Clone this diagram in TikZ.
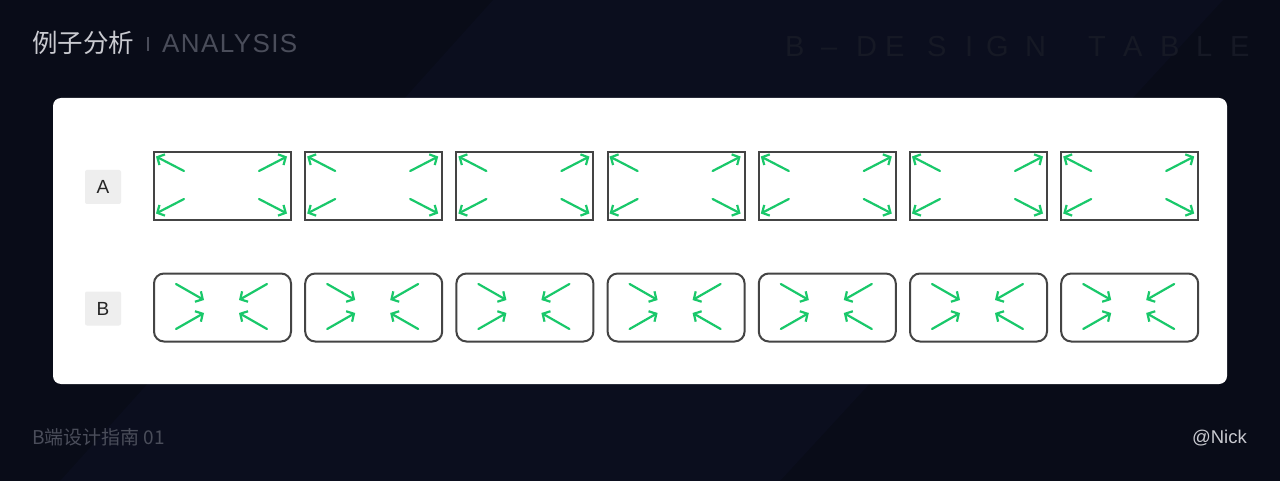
\documentclass[tikz,border=0pt]{standalone}
\usepackage{fontspec}
\setmainfont{Liberation Sans}
\newfontfamily\cjkfont{Noto Sans CJK SC}
\usetikzlibrary{arrows.meta}
\definecolor{bgdark}{HTML}{090C18}
\definecolor{bgband}{HTML}{0B0E1E}
\definecolor{greyhead}{HTML}{C9CAD0}
\definecolor{greydim}{HTML}{4A4D5A}
\definecolor{greyfaint}{HTML}{161925}
\definecolor{framegrey}{HTML}{444444}
\definecolor{arrowgreen}{HTML}{19C86A}
\definecolor{tagfill}{HTML}{EEEEEE}

\begin{document}
\begin{tikzpicture}[x=1pt,y=-1pt,
  frame/.style={draw=framegrey,line width=2pt,minimum width=137pt,minimum height=68pt,inner sep=0pt},
  tag/.style={fill=tagfill,rounded corners=2pt,minimum width=36pt,minimum height=34pt,inner sep=0pt,font=\fontsize{19}{22}\selectfont,text=black!85},
  arr/.style={arrowgreen,line width=2.2pt,line cap=round,-{Straight Barb[length=5.5pt,width=12pt]}}]
% background
\fill[bgdark] (0,0) rectangle (1280,481);
\fill[bgband] (60,481) -- (493,0) -- (1223,0) -- (780,481) -- cycle;
\useasboundingbox (0,0) rectangle (1280,481);

% header
\draw (32,53) node[anchor=base west,inner sep=0pt,text=greyhead,font=\cjkfont\fontsize{25.5}{30}\selectfont] (title) {例子分析};
\draw[greydim,line width=1.3pt] (148,37) -- (148,51);
\draw (162,53) node[anchor=base west,inner sep=0pt,text=greydim,font=\fontsize{26}{30}\selectfont\addfontfeature{LetterSpace=5.4}] (subtitle) {ANALYSIS};
\foreach \ch/\px [count=\k] in {B/787,\textendash/823,D/858,E/887,S/929,I/967,G/988,N/1027,T/1090,A/1125,B/1162,L/1198,E/1232}
  \draw (\px-2,57) node[anchor=base west,inner sep=0pt,text=greyfaint,font=\fontsize{29}{34}\selectfont] (deco\k) {\ch};

% panel
\fill[white,rounded corners=8pt] (53,98) rectangle (1227,384);
\draw (103,187) node[tag] (rowA) {A};
\draw (103,308.5) node[tag] (rowB) {B};

\foreach \i in {1,...,7} {
  \draw ({222.5+151.2*(\i-1)},186) node[frame] (a\i) {};
  \draw ({222.5+151.2*(\i-1)},307.5) node[frame,rounded corners=10pt] (b\i) {};
  % A: outward
  \foreach \sx/\sy/\ex/\ey in {31/20/3/5.5,106/20/134/5.5,31/48/3/62.5,106/48/134/62.5}
    \draw[arr] ([shift={(\sx,\sy)}]a\i.north west) -- ([shift={(\ex,\ey)}]a\i.north west);
  % B: inward
  \foreach \sx/\sy/\ex/\ey in {23/11.5/51/27.5,114/11.5/86/27.5,23/56.5/51/40.5,114/56.5/86/40.5}
    \draw[arr] ([shift={(\sx,\sy)}]b\i.north west) -- ([shift={(\ex,\ey)}]b\i.north west);
}

% footer
\draw (32,444) node[anchor=base west,inner sep=0pt,text=greydim,font=\cjkfont\fontsize{19}{22}\selectfont] (footL) {B端设计指南 01};
\draw (1247,443) node[anchor=base east,inner sep=0pt,text=greyhead,font=\fontsize{18.5}{22}\selectfont] (footR) {@Nick};
\end{tikzpicture}
\end{document}
